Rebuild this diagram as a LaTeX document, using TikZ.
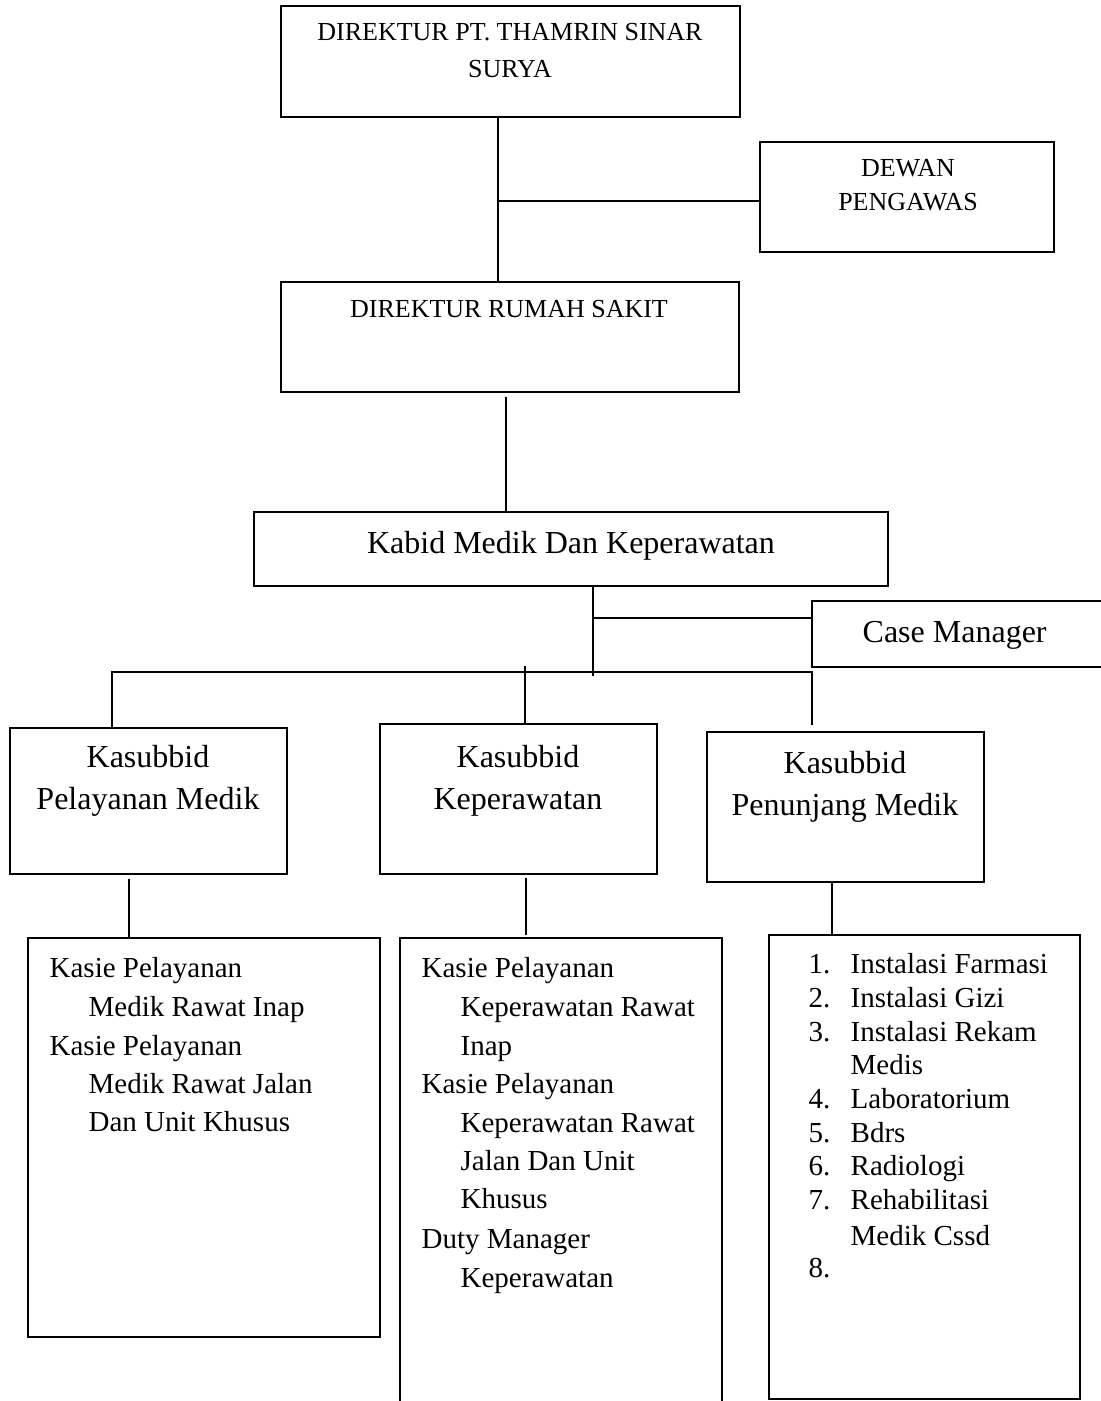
\documentclass[tikz,border=0pt]{standalone}
\usepackage{fontspec}
\setmainfont{Liberation Serif}
\usetikzlibrary{fit}
\begin{document}
\begin{tikzpicture}[x=0.75pt,y=-0.75pt,line width=1pt,
  box/.style={draw,inner sep=0pt,line width=1pt},
  capt/.style={anchor=base,font=\fontsize{19.5}{23}\selectfont,inner sep=0pt},
  big/.style={anchor=base,font=\fontsize{24}{28}\selectfont,inner sep=0pt},
  bigw/.style={anchor=base west,font=\fontsize{24}{28}\selectfont,inner sep=0pt},
  item/.style={anchor=base west,font=\fontsize{21.75}{26}\selectfont,inner sep=0pt}]
\useasboundingbox (0,0) rectangle (1100,1401);
% boxes
\node[box,fit={(281,6)(740,117)}] (top) {};
\node[box,fit={(760,142)(1054,252)}] (dewan) {};
\node[box,fit={(281,282)(739,392)}] (drs) {};
\node[box,fit={(254,512)(888,586)}] (kabid) {};
\node[box,fit={(812,601)(1114,667)}] (cm) {};
\node[box,fit={(10,728)(287,874)}] (ksL) {};
\node[box,fit={(380,724)(657,874)}] (ksM) {};
\node[box,fit={(707,732)(984,882)}] (ksR) {};
\node[box,fit={(28,938)(380,1337)}] (bL) {};
\node[box,fit={(400,938)(722,1414)}] (bM) {};
\node[box,fit={(769,935)(1080,1399)}] (bR) {};
% texts
\node[capt] (t1a) at (510,41) {DIREKTUR PT. THAMRIN SINAR};
\node[capt] (t1b) at (510,78) {SURYA};
\node[capt] (t2a) at (908,177) {DEWAN};
\node[capt] (t2b) at (908,211) {PENGAWAS};
\node[capt] (t3) at (509,317) {DIREKTUR RUMAH SAKIT};
\node[big] (t4) at (571,553) {Kabid Medik Dan Keperawatan};
\node[bigw] (t5) at (862,642) {Case Manager};
\node[big] (t6a) at (148,767) {Kasubbid};
\node[big] (t6b) at (148,809) {Pelayanan Medik};
\node[big] (t7a) at (518,767) {Kasubbid};
\node[big] (t7b) at (518,809) {Keperawatan};
\node[big] (t8a) at (845,773) {Kasubbid};
\node[big] (t8b) at (845,815) {Penunjang Medik};
% left list
\node[item] (l1) at (49,977) {Kasie Pelayanan};
\node[item] (l2) at (88,1016) {Medik Rawat Inap};
\node[item] (l3) at (49,1055) {Kasie Pelayanan};
\node[item] (l4) at (88,1093) {Medik Rawat Jalan};
\node[item] (l5) at (88,1131) {Dan Unit Khusus};
% middle list
\node[item] (m1) at (421,977) {Kasie Pelayanan};
\node[item] (m2) at (460,1016) {Keperawatan Rawat};
\node[item] (m3) at (460,1055) {Inap};
\node[item] (m4) at (421,1093) {Kasie Pelayanan};
\node[item] (m5) at (460,1132) {Keperawatan Rawat};
\node[item] (m6) at (460,1170) {Jalan Dan Unit};
\node[item] (m7) at (460,1208) {Khusus};
\node[item] (m8) at (421,1248) {Duty Manager};
\node[item] (m9) at (460,1287) {Keperawatan};
% right list
\node[item] (n1) at (808,973) {1.};
\node[item] (r1) at (850,973) {Instalasi Farmasi};
\node[item] (n2) at (808,1007) {2.};
\node[item] (r2) at (850,1007) {Instalasi Gizi};
\node[item] (n3) at (808,1041) {3.};
\node[item] (r3) at (850,1041) {Instalasi Rekam};
\node[item] (r3b) at (850,1074) {Medis};
\node[item] (n4) at (808,1108) {4.};
\node[item] (r4) at (850,1108) {Laboratorium};
\node[item] (n5) at (808,1142) {5.};
\node[item] (r5) at (850,1142) {Bdrs};
\node[item] (n6) at (808,1175) {6.};
\node[item] (r6) at (850,1175) {Radiologi};
\node[item] (n7) at (808,1209) {7.};
\node[item] (r7) at (850,1209) {Rehabilitasi};
\node[item] (r7b) at (850,1245) {Medik Cssd};
\node[item] (n8) at (808,1277) {8.};
% connectors
\coordinate (jA) at (498,201);
\draw (jA |- top.south) -- (jA |- drs.north);
\draw (jA) -- (jA -| dewan.west);
\coordinate (jB) at (506,397);
\draw (jB) -- (jB |- kabid.north);
\coordinate (jC) at (593,618);
\coordinate (jCe) at (593,676);
\draw (jC |- kabid.south) -- (jCe);
\draw (jC) -- (jC -| cm.west);
\coordinate (hL) at (112,672);
\coordinate (hR) at (812,672);
\coordinate (rEnd) at (812,725);
\draw (hL |- ksL.north) -- (hL) -- (hR) -- (rEnd);
\coordinate (mTop) at (525,666);
\draw (mTop) -- (mTop |- ksM.north);
\coordinate (lA) at (129,879);
\draw (lA) -- (lA |- bL.north);
\coordinate (mA) at (526,878);
\coordinate (mB) at (526,935);
\draw (mA) -- (mB);
\coordinate (rA) at (832,882);
\draw (rA |- ksR.south) -- (rA |- bR.north);
\end{tikzpicture}
\end{document}
